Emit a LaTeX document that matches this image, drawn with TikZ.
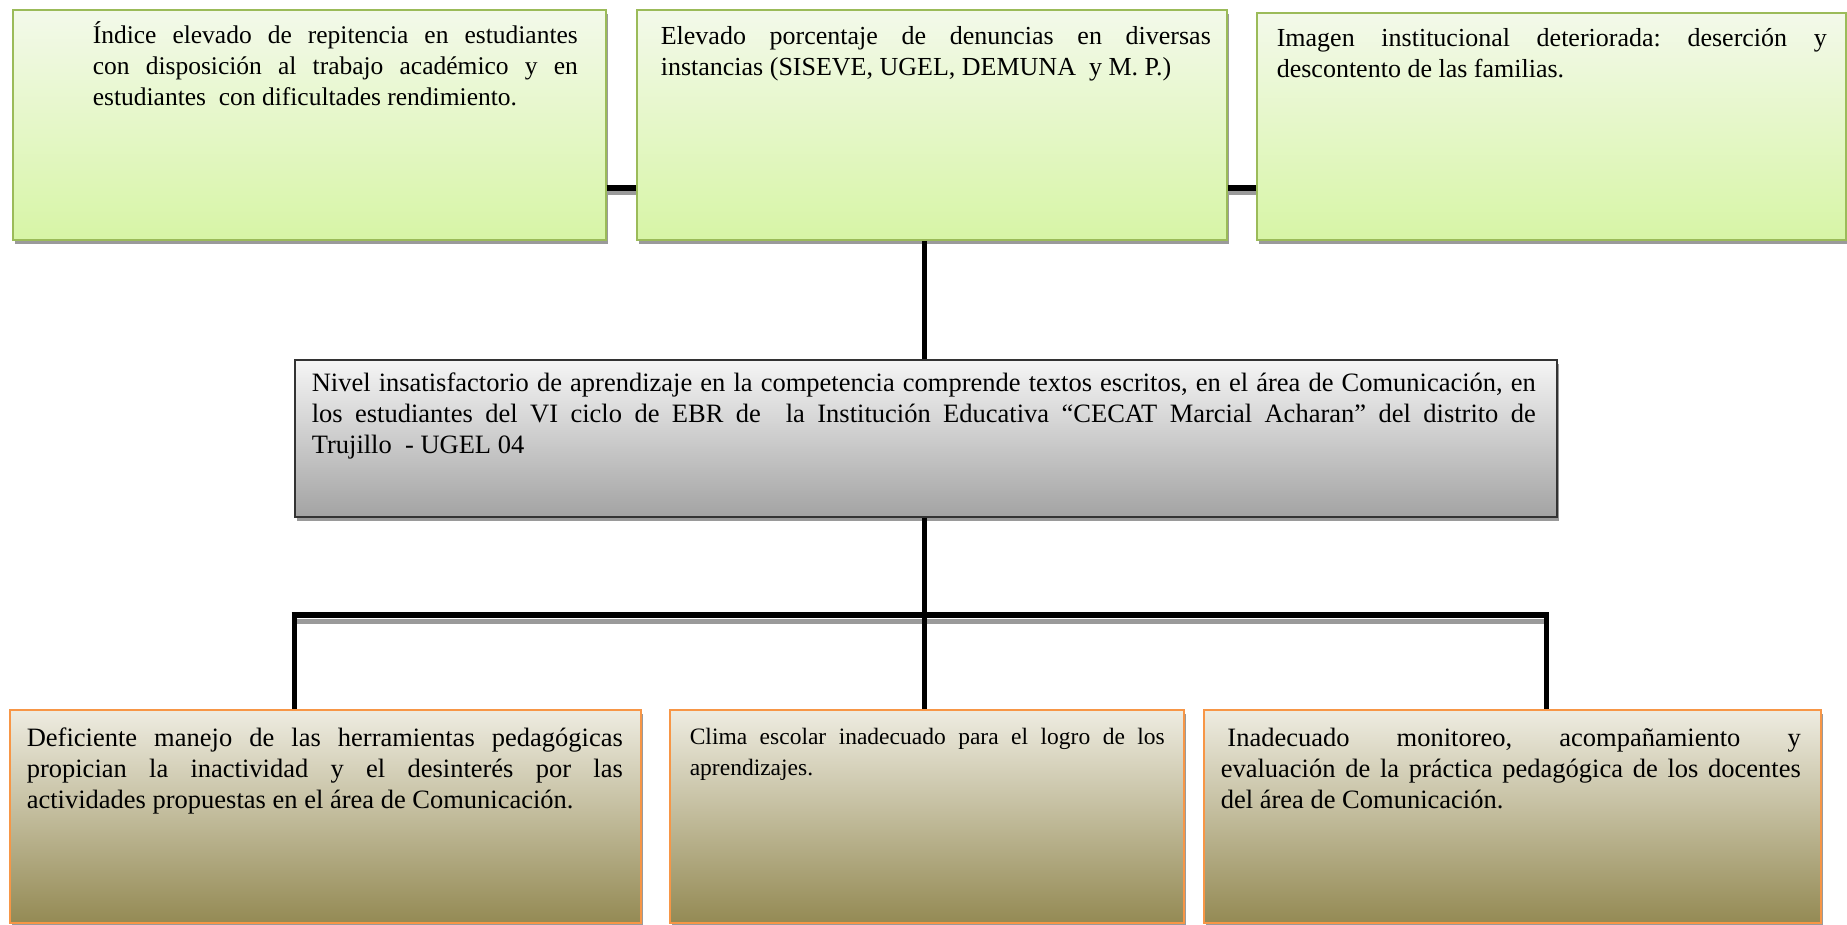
\documentclass[tikz,border=0pt]{standalone}
\usepackage{fontspec}
\setmainfont{Liberation Serif}
\usetikzlibrary{shadows}
\definecolor{grnTop}{HTML}{F3F9EA}
\definecolor{grnBot}{HTML}{D7F5A6}
\definecolor{grnLine}{HTML}{9BBB59}
\definecolor{gryTop}{HTML}{F5F5F5}
\definecolor{gryBot}{HTML}{A3A3A3}
\definecolor{gryLine}{HTML}{333333}
\definecolor{olvTop}{HTML}{EEECE1}
\definecolor{olvBot}{HTML}{948A54}
\definecolor{orgLine}{HTML}{F79646}
\definecolor{shad}{HTML}{9A9A9A}
% width, height, top pad, left pad, right pad, font size, text
\newcommand{\bxt}[7]{\parbox[c][#2][t]{#1}{\vspace*{#3}\leftskip=#4\rightskip=#5\parindent=0pt\parfillskip=0pt plus 1fil\frenchspacing\fontsize{#6}{31}\selectfont\rule{0pt}{21pt}#7}}
\begin{document}
\begin{tikzpicture}[x=1pt,y=-1pt,
  box/.style={inner sep=0pt, anchor=north west, line width=1.6pt,
    drop shadow={shadow xshift=2pt, shadow yshift=-4pt, fill=shad, opacity=1}},
  effect/.style={box, draw=grnLine, top color=grnTop, bottom color=grnBot},
  problem/.style={box, draw=gryLine, top color=gryTop, bottom color=gryBot},
  cause/.style={box, draw=orgLine, top color=olvTop, bottom color=olvBot},
  link/.style={line width=5pt, black},
  linkshadow/.style={line width=4pt, shad}]
\useasboundingbox (0,0) rectangle (1847,924);

% effects
\node[effect] (b1) at (12,9) {\bxt{593pt}{230pt}{12pt}{80pt}{28pt}{25.5}{Índice elevado de repitencia en estudiantes\linebreak con disposición al trabajo académico y en\linebreak estudiantes~ con dificultades rendimiento.}};
\node[effect] (b2) at (636,9) {\bxt{590pt}{230pt}{14pt}{24pt}{16pt}{26}{Elevado porcentaje de denuncias en diversas\linebreak instancias (SISEVE, UGEL, DEMUNA~ y M. P.)}};
\node[effect] (b3) at (1256,12) {\bxt{589pt}{227pt}{13pt}{20pt}{19pt}{26}{Imagen institucional deteriorada: deserción y\linebreak descontento de las familias.}};

% central problem
\node[problem] (c) at (294,359) {\bxt{1262pt}{157pt}{11pt}{17pt}{21pt}{26.5}{Nivel insatisfactorio de aprendizaje en la competencia comprende textos escritos, en el área de Comunicación, en\linebreak los estudiantes del VI ciclo de EBR de~ la Institución Educativa “CECAT Marcial Acharan” del distrito de\linebreak Trujillo~ - UGEL 04}};

% causes
\node[cause] (e1) at (9,709) {\bxt{631pt}{213pt}{16pt}{17pt}{18pt}{26.5}{Deficiente manejo de las herramientas pedagógicas\linebreak propician la inactividad y el desinterés por las\linebreak actividades propuestas en el área de Comunicación.}};
\node[cause] (e2) at (669,709) {\bxt{514pt}{213pt}{13.5pt}{20pt}{19pt}{23.5}{Clima escolar inadecuado para el logro de los\linebreak aprendizajes.}};
\node[cause] (e3) at (1203,709) {\bxt{617pt}{213pt}{16pt}{17pt}{20pt}{26.5}{\hspace*{0.25em}Inadecuado monitoreo, acompañamiento y\linebreak evaluación de la práctica pedagógica de los docentes\linebreak del área de Comunicación.}};

% junction coordinates
\coordinate (jt) at (0,188);
\coordinate (bl) at (294,615);
\coordinate (bm) at (924,615);
\coordinate (br) at (1546,615);

% connectors between effects
\draw[linkshadow] ([yshift=-5pt]b1.east |- jt) -- ([yshift=-5pt]b2.west |- jt);
\draw[linkshadow] ([yshift=-5pt]b2.east |- jt) -- ([yshift=-5pt]b3.west |- jt);
\draw[link, line width=6pt] (b1.east |- jt) -- (b2.west |- jt);
\draw[link, line width=6pt] (b2.east |- jt) -- (b3.west |- jt);

% effect to problem
\draw[link] (c.north -| bm) -- (b2.south -| bm);
\draw[link] (c.south -| bm) -- (bm);

% bus
\draw[linkshadow, line width=5pt] ([yshift=-6pt]bl) -- ([yshift=-6pt]br);
\draw[link, line width=6pt] ([xshift=-2.5pt]bl) -- ([xshift=2.5pt]br);
\draw[link] (bl) -- (bl |- e1.north);
\draw[link] (bm) -- (bm |- e2.north);
\draw[link] (br) -- (br |- e3.north);
\end{tikzpicture}
\end{document}
